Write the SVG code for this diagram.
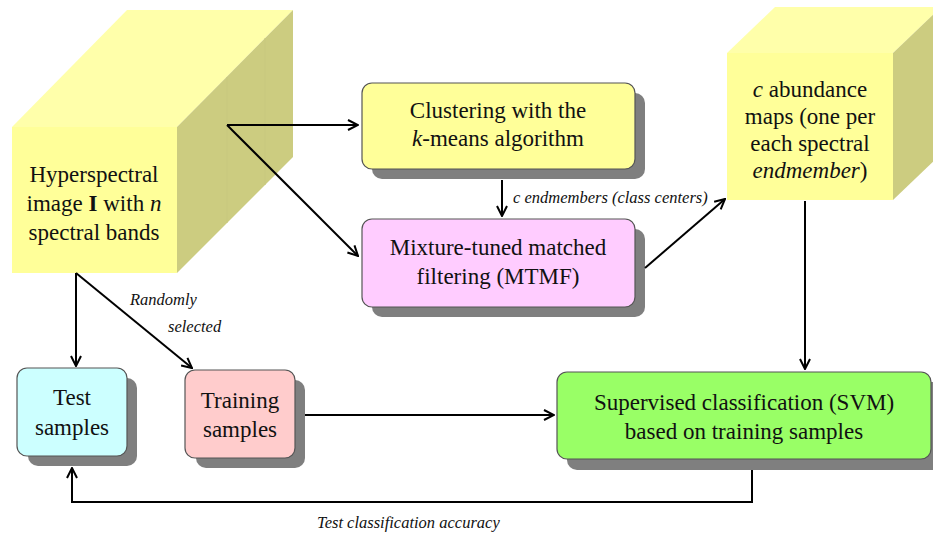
<svg xmlns="http://www.w3.org/2000/svg" width="933" height="533" viewBox="0 0 933 533">
<defs>
<marker id="arr" viewBox="0 0 12 12" refX="11" refY="6" markerWidth="12" markerHeight="12" markerUnits="userSpaceOnUse" orient="auto">
<path d="M1,1 L11,6 L1,11" fill="none" stroke="#000" stroke-width="2"/>
</marker>
</defs>
<style>
.shadow{fill:#7f7f7f;}
.box{stroke:#555;stroke-width:1.2;}
.conn{fill:none;stroke:#000;stroke-width:2;}
.front{fill:#ffff99;}
.top{fill:#ffffaa;}
.side{fill:#cccc80;}
</style>
<g id="hyperspectral-cube">
<polygon class="top" points="12,127 127,10 293,10 177,127"/>
<polygon class="side" points="177,127 293,10 293,157 177,273"/>
<rect class="front" x="12" y="127" width="165" height="146"/>
<line x1="227" y1="77" x2="227" y2="223" stroke="#c8c87e" stroke-width="1"/>
<line x1="265" y1="38" x2="265" y2="185" stroke="#c8c87e" stroke-width="1"/>
<g font-family="Liberation Serif" font-size="23" text-anchor="middle" fill="#111">
<text x="94" y="182">Hyperspectral</text>
<text x="94" y="211">image <tspan font-weight="bold">I</tspan> with <tspan font-style="italic">n</tspan></text>
<text x="94" y="240">spectral bands</text>
</g>
</g>
<g id="abundance-cube">
<polygon class="top" points="727,53 775,7 941,7 893,53"/>
<polygon class="side" points="893,53 941,7 941,154 893,200"/>
<rect class="front" x="727" y="53" width="166" height="147"/>
<g font-family="Liberation Serif" font-size="23" text-anchor="middle" fill="#111">
<text x="810" y="97"><tspan font-style="italic">c</tspan> abundance</text>
<text x="810" y="124">maps (one per</text>
<text x="810" y="151">each spectral</text>
<text x="810" y="178"><tspan font-style="italic">endmember</tspan>)</text>
</g>
</g>
<g id="clustering">
<rect class="shadow" x="372" y="93" width="273" height="86" rx="10"/>
<rect class="box" x="362" y="83" width="273" height="86" rx="10" fill="#ffff99"/>
<g font-family="Liberation Serif" font-size="23" text-anchor="middle" fill="#111">
<text x="498" y="118">Clustering with the</text>
<text x="498" y="146"><tspan font-style="italic">k</tspan>-means algorithm</text>
</g>
</g>
<g id="mtmf">
<rect class="shadow" x="372" y="229" width="273" height="88" rx="10"/>
<rect class="box" x="362" y="219" width="273" height="88" rx="10" fill="#ffccff"/>
<g font-family="Liberation Serif" font-size="23" text-anchor="middle" fill="#111">
<text x="498" y="255">Mixture-tuned matched</text>
<text x="498" y="284">filtering (MTMF)</text>
</g>
</g>
<g id="test-samples">
<rect class="shadow" x="28" y="378" width="109" height="88" rx="10"/>
<rect class="box" x="17" y="368" width="110" height="88" rx="10" fill="#ccffff"/>
<g font-family="Liberation Serif" font-size="23" text-anchor="middle" fill="#111">
<text x="72" y="405">Test</text>
<text x="72" y="435">samples</text>
</g>
</g>
<g id="training-samples">
<rect class="shadow" x="196" y="380" width="109" height="88" rx="10"/>
<rect class="box" x="185" y="370" width="110" height="88" rx="10" fill="#ffcccc"/>
<g font-family="Liberation Serif" font-size="23" text-anchor="middle" fill="#111">
<text x="240" y="408">Training</text>
<text x="240" y="437">samples</text>
</g>
</g>
<g id="svm">
<rect class="shadow" x="567" y="382" width="380" height="88" rx="10"/>
<rect class="box" x="557" y="372" width="374" height="87" rx="10" fill="#99ff66"/>
<g font-family="Liberation Serif" font-size="23" text-anchor="middle" fill="#111">
<text x="744" y="410">Supervised classification (SVM)</text>
<text x="744" y="439">based on training samples</text>
</g>
</g>
<g id="connectors">
<path class="conn" d="M227,125 L358,125" marker-end="url(#arr)"/>
<path class="conn" d="M227,125 L358,256" marker-end="url(#arr)"/>
<path class="conn" d="M502,180 L502,216" marker-end="url(#arr)"/>
<path class="conn" d="M645,268 L725,199" marker-end="url(#arr)"/>
<path class="conn" d="M805,201 L805,369" marker-end="url(#arr)"/>
<path class="conn" d="M76,273 L76,366" marker-end="url(#arr)"/>
<path class="conn" d="M76,273 L192,368" marker-end="url(#arr)"/>
<path class="conn" d="M305,415 L554,415" marker-end="url(#arr)"/>
<path class="conn" d="M752,470 L752,502 L72,502 L72,468" marker-end="url(#arr)"/>
<g font-family="Liberation Serif" font-size="16.5" font-style="italic" fill="#111">
<text x="513" y="203">c endmembers (class centers)</text>
<text x="130" y="305">Randomly</text>
<text x="168" y="332">selected</text>
<text x="317" y="528">Test classification accuracy</text>
</g>
</g>
</svg>
